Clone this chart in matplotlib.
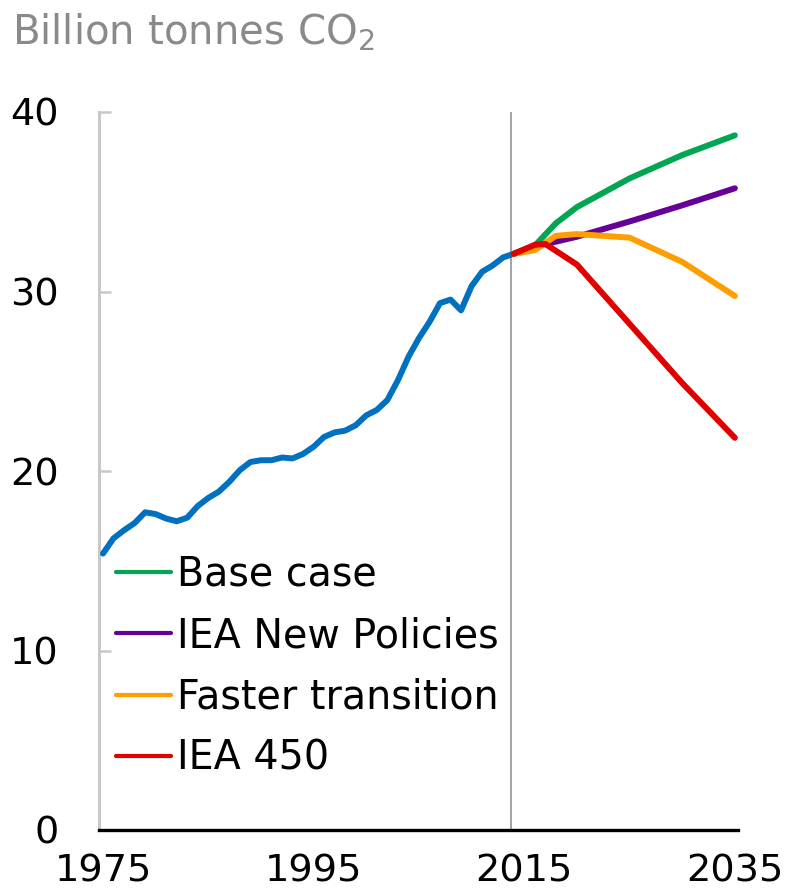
import numpy as np
import matplotlib
matplotlib.use("Agg")
import matplotlib.pyplot as plt
from matplotlib.lines import Line2D

plt.rcParams['font.family'] = ['DejaVu Sans']
plt.rcParams['mathtext.default'] = 'regular'

# history
hist_years = list(range(1975, 2015))
hist_vals = [15.4, 16.25, 16.7, 17.1, 17.7, 17.6, 17.35, 17.2, 17.4, 18.05,
             18.5, 18.85, 19.4, 20.05, 20.5, 20.6, 20.6, 20.75, 20.7, 20.95,
             21.35, 21.9, 22.15, 22.25, 22.55, 23.1, 23.4, 23.95, 25.05, 26.35,
             27.4, 28.3, 29.35, 29.55, 28.95, 30.3, 31.1, 31.45, 31.9, 32.1]

# scenarios
base_years = [2014, 2016, 2018, 2020, 2025, 2030, 2035]
base_vals = [32.1, 32.55, 33.8, 34.7, 36.3, 37.6, 38.7]
nps_years = [2014, 2016, 2020, 2025, 2030, 2035]
nps_vals = [32.1, 32.5, 33.05, 33.9, 34.8, 35.75]
ft_years = [2014, 2016, 2018, 2020, 2025, 2030, 2035]
ft_vals = [32.1, 32.3, 33.1, 33.2, 33.0, 31.65, 29.75]
iea450_years = [2014, 2016, 2017, 2020, 2025, 2030, 2035]
iea450_vals = [32.1, 32.6, 32.65, 31.5, 28.2, 24.9, 21.85]

labels = ['Base case', 'IEA New Policies', 'Faster transition', 'IEA 450']
colors = ['#00A651', '#660099', '#FF9E00', '#E00000']
blue = '#0070C0'

W, H = 787, 891
fig = plt.figure(figsize=(W / 100, H / 100), dpi=100)
ax = fig.add_axes([99 / W, (H - 830) / H, (738 - 99) / W, (830 - 112) / H])

lw = 4.3
ax.axvline(2013.7, color='#8c8c8c', lw=1.1, zorder=1)
ax.plot(hist_years, hist_vals, color=blue, lw=lw, solid_capstyle='round',
        solid_joinstyle='round', zorder=3)
series = [(base_years, base_vals), (nps_years, nps_vals),
          (ft_years, ft_vals), (iea450_years, iea450_vals)]
for (xs, ys), c in zip(series, colors):
    ax.plot(xs, ys, color=c, lw=lw, solid_capstyle='round',
            solid_joinstyle='round', zorder=3)

ax.set_xlim(1974.62, 2035.3)
ax.set_ylim(0, 40)
ax.set_xticks([1975, 1995, 2015, 2035])
ax.set_yticks([0, 10, 20, 30, 40])

for s in ['top', 'right']:
    ax.spines[s].set_visible(False)
ax.spines['left'].set_color('#c8c8c8')
ax.spines['left'].set_linewidth(2.2)
ax.spines['bottom'].set_color('black')
ax.spines['bottom'].set_linewidth(2.4)
ax.spines['bottom'].set_zorder(4)

ax.tick_params(axis='y', direction='in', length=8.6, width=1.8,
               color='#c8c8c8', labelsize=27.5, pad=29, labelcolor='black')
ax.tick_params(axis='x', length=0, labelsize=27.5, pad=17, labelcolor='black')

fig.text(12 / W, 1 - 12 / H, 'Billion tonnes CO$_2$', color='#8a8a8a',
         fontsize=29, va='top', ha='left')

handles = [Line2D([], [], color=c, lw=3, solid_capstyle='round') for c in colors]
fig.legend(handles, labels, loc='upper left',
           bbox_to_anchor=(116 / W, 1 - 555 / H), frameon=False,
           fontsize=28.5, handlelength=1.4, handletextpad=0.15,
           labelspacing=0.535, borderpad=0, borderaxespad=0)

fig.savefig('out.png', dpi=100)
